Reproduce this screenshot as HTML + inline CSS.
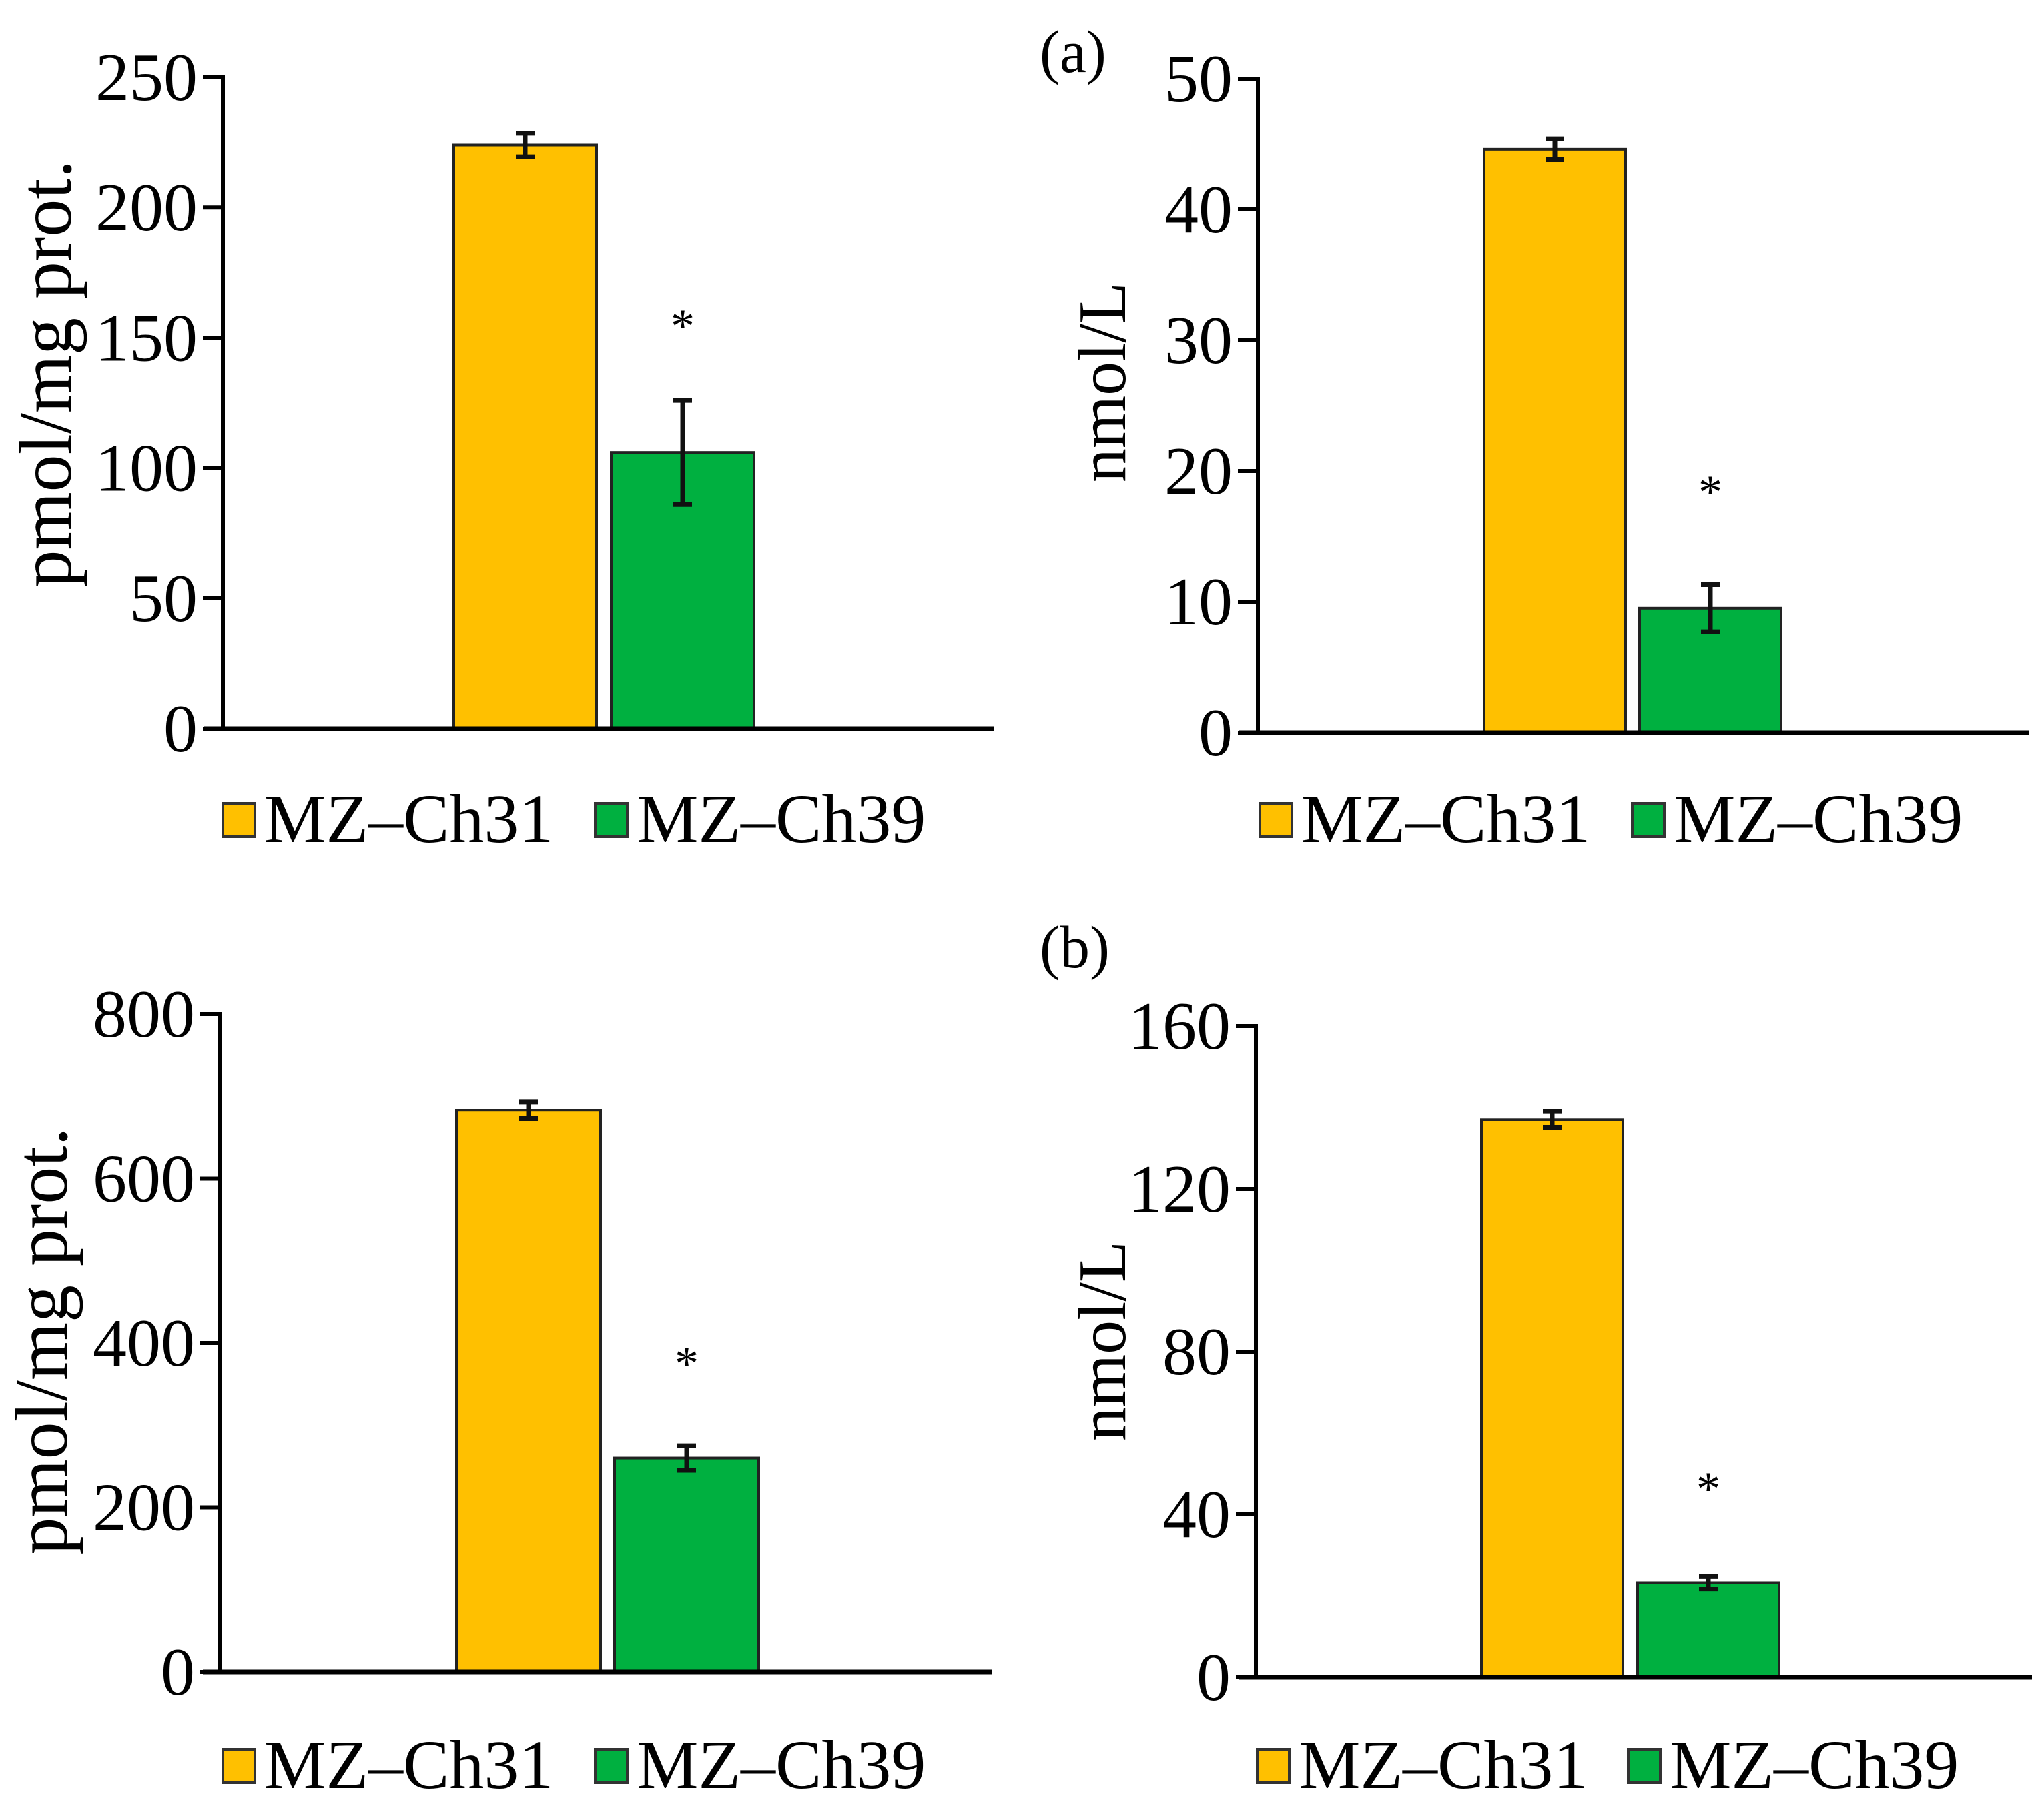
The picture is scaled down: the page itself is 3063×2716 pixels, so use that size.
<!DOCTYPE html>
<html><head><meta charset="utf-8">
<style>
html,body{margin:0;padding:0;background:#fff;}
svg{display:block;font-family:"Liberation Serif",serif;}
</style></head>
<body>
<svg id="fig" width="3063" height="2716" viewBox="0 0 3063 2716" xmlns="http://www.w3.org/2000/svg">
<text x="1558" y="108" font-size="90">(a)</text>
<text x="1558" y="1450" font-size="90">(b)</text>
</svg>
<script>
// Panel data
const categories = ["MZ–Ch31", "MZ–Ch39"];
const colors = ["#FFC000", "#00B040"];
const tlValues = [224, 106];
const tlErrors = [4.5, 20];
const tlTicks = [0, 50, 100, 150, 200, 250];
const trValues = [44.6, 9.5];
const trErrors = [0.8, 1.8];
const trTicks = [0, 10, 20, 30, 40, 50];
const blValues = [683, 260];
const blErrors = [10, 15];
const blTicks = [0, 200, 400, 600, 800];
const brValues = [137, 23.2];
const brErrors = [2, 1.5];
const brTicks = [0, 40, 80, 120, 160];
const tlSig = [false, true];
const trSig = [false, true];
const blSig = [false, true];
const brSig = [false, true];

const NS = "http://www.w3.org/2000/svg";
const svg = document.getElementById("fig");
function mk(tag, attrs, parent) {
  const e = document.createElementNS(NS, tag);
  for (const k in attrs) e.setAttribute(k, attrs[k]);
  (parent || svg).appendChild(e);
  return e;
}

function panel(cfg) {
  const g = mk("g", {});
  
  
  const max = cfg.ticks[cfg.ticks.length - 1];
  const y = v => cfg.y0 - (v / max) * (cfg.y0 - cfg.yTop);
  cfg.ticks.forEach(t => {
    const tk = mk("line", {x1: cfg.ax - 30, x2: cfg.ax, y1: y(t), y2: y(t), stroke: "#000", "stroke-width": 6}, g);
    
    
    const tl = mk("text", {x: cfg.ax - 38, y: y(t) + 34, "font-size": 102, "text-anchor": "end"}, g);
    tl.textContent = t;
    
    
  });
  cfg.values.forEach((v, i) => {
    const x = cfg.barX[i];
    const r = mk("rect", {x: x, y: y(v), width: cfg.barW, height: cfg.y0 - y(v), fill: colors[i], stroke: "#222", "stroke-width": 4}, g);
    
    
    const cx = x + cfg.barW / 2;
    const e = cfg.errors[i];
    const eb = mk("path", {d: `M${cx},${y(v + e)}V${y(v - e)}M${cx - 14},${y(v + e)}H${cx + 14}M${cx - 14},${y(v - e)}H${cx + 14}`, stroke: "#111", "stroke-width": 7, fill: "none"}, g);
    
    
    if (cfg.sig[i]) {
      const s = mk("text", {x: cx, y: cfg.starY, "font-size": 72, "text-anchor": "middle"}, g);
      s.textContent = "*";
      
      
    }
  });
  const ya = mk("line", {x1: cfg.ax, x2: cfg.ax, y1: cfg.yTop - 3, y2: cfg.y0 + 3, stroke: "#000", "stroke-width": 6}, g);
  
  
  const xa = mk("line", {x1: cfg.xl, x2: cfg.xr, y1: cfg.y0, y2: cfg.y0, stroke: "#000", "stroke-width": 7}, g);
  
  
  const tt = mk("text", {x: 0, y: 0, "font-size": cfg.titleSize, "text-anchor": "middle", transform: `translate(${cfg.titleX},${cfg.titleY}) rotate(-90)`}, g);
  tt.textContent = cfg.title;
  
  
  categories.forEach((c, i) => {
    const sq = mk("rect", {x: cfg.legX[i], y: cfg.legY, width: 48, height: 50, fill: colors[i], stroke: "#333", "stroke-width": 4}, g);
    
    
    const lt = mk("text", {x: cfg.legX[i] + 62, y: cfg.legY + 58, "font-size": 104}, g);
    lt.textContent = c;
    
    
  });
}

panel({name: "panel-a-left", values: tlValues, errors: tlErrors, ticks: tlTicks, sig: tlSig,
  ax: 334, yTop: 116, y0: 1092, xl: 306, xr: 1490, barX: [680, 916], barW: 214, starY: 513,
  title: "pmol/mg prot.", titleSize: 112, titleX: 106, titleY: 560, legX: [334, 892], legY: 1204});
panel({name: "panel-a-right", values: trValues, errors: trErrors, ticks: trTicks, sig: trSig,
  ax: 1885, yTop: 118, y0: 1098, xl: 1857, xr: 3040, barX: [2224, 2457], barW: 212, starY: 762,
  title: "nmol/L", titleSize: 102, titleX: 1686, titleY: 573, legX: [1888, 2446], legY: 1204});
panel({name: "panel-b-left", values: blValues, errors: blErrors, ticks: blTicks, sig: blSig,
  ax: 330, yTop: 1520, y0: 2506, xl: 304, xr: 1486, barX: [684, 921], barW: 216, starY: 2068,
  title: "pmol/mg prot.", titleSize: 112, titleX: 100, titleY: 2010, legX: [334, 892], legY: 2622});
panel({name: "panel-b-right", values: brValues, errors: brErrors, ticks: brTicks, sig: brSig,
  ax: 1882, yTop: 1538, y0: 2514, xl: 1857, xr: 3045, barX: [2220, 2454], barW: 212, starY: 2256,
  title: "nmol/L", titleSize: 102, titleX: 1686, titleY: 2010, legX: [1884, 2440], legY: 2622});
</script>
</body></html>
